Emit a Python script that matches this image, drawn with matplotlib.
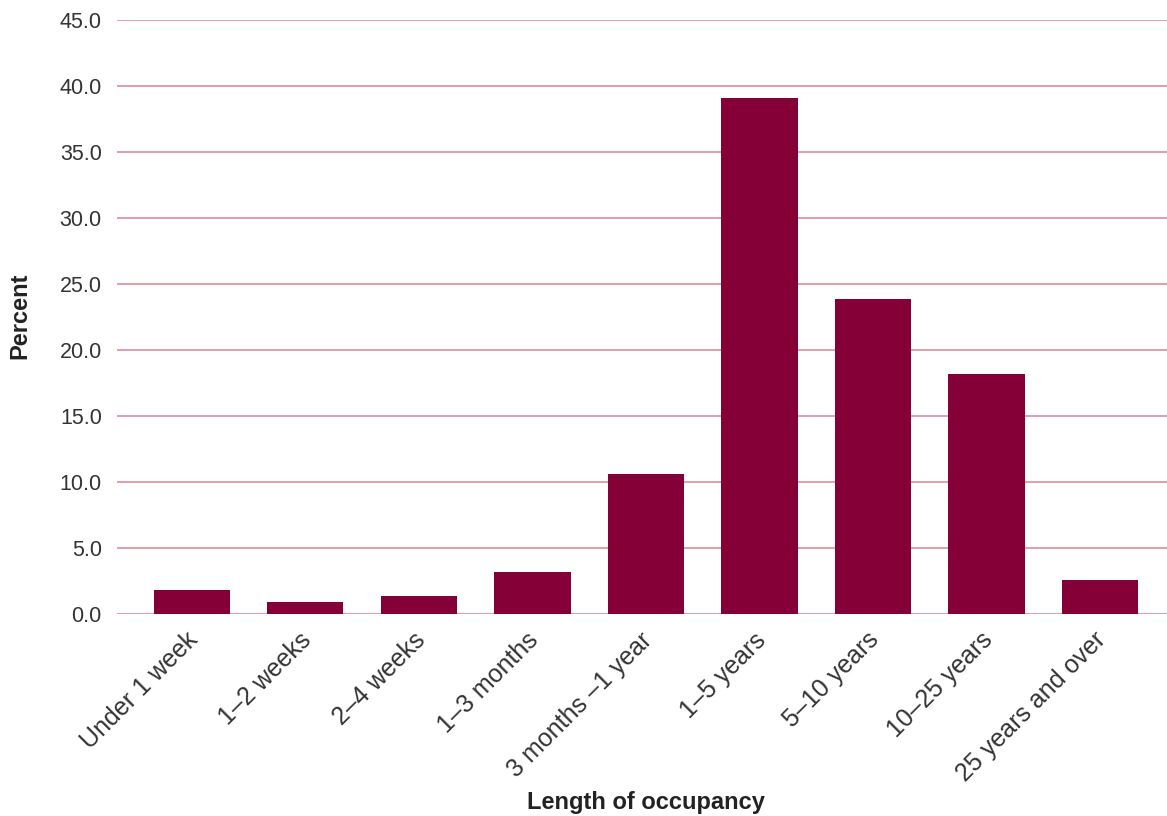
import matplotlib
matplotlib.use("Agg")
import matplotlib.pyplot as plt
from matplotlib.transforms import ScaledTranslation

categories = [
    "Under 1 week", "1\u20132 weeks", "2\u20134 weeks", "1\u20133 months",
    "3 months \u20131 year", "1\u20135 years", "5\u201310 years",
    "10\u201325 years", "25 years and over",
]
percent = [1.8, 0.9, 1.4, 3.2, 10.6, 39.1, 23.9, 18.2, 2.6]
yticks = [0, 5, 10, 15, 20, 25, 30, 35, 40, 45]

plt.rcParams["font.family"] = ["Liberation Sans", "DejaVu Sans"]

W, H = 1167, 816
fig = plt.figure(figsize=(W / 100, H / 100), dpi=100)
ax = fig.add_axes([0.1003, 0.2475, 0.8997, 0.728])

x = list(range(len(categories)))
ax.bar(x, percent, width=0.67, color="#860038", zorder=3)

ax.set_ylim(0, 45)
ax.set_xlim(-0.66, len(categories) - 0.41)
ax.set_yticks(yticks)
ax.set_yticklabels([f"{v:.1f}" for v in yticks])
ax.yaxis.grid(True, color="#dc8e9c", linewidth=1.2, zorder=0)
ax.set_axisbelow(True)

for s in ax.spines.values():
    s.set_visible(False)

ax.tick_params(axis="y", length=0, pad=11, labelsize=15.5, labelcolor="#333333")
ax.tick_params(axis="x", length=0, pad=10, labelsize=18, labelcolor="#333333")
ax.set_xticks(x)
ax.set_xticklabels(categories, rotation=45, ha="right", va="top", rotation_mode="anchor")
shift = ScaledTranslation(-6 / 100, 0, fig.dpi_scale_trans)
for lbl in ax.get_xticklabels():
    lbl.set_transform(lbl.get_transform() + shift)

fig.text(20 / W, 1 - 316 / H, "Percent", rotation=90, ha="center", va="center",
         fontsize=17, fontweight="bold", color="#222222")
fig.text(646 / W, 1 - 803 / H, "Length of occupancy", ha="center", va="center",
         fontsize=17, fontweight="bold", color="#222222")

fig.savefig("out.png", dpi=100)
